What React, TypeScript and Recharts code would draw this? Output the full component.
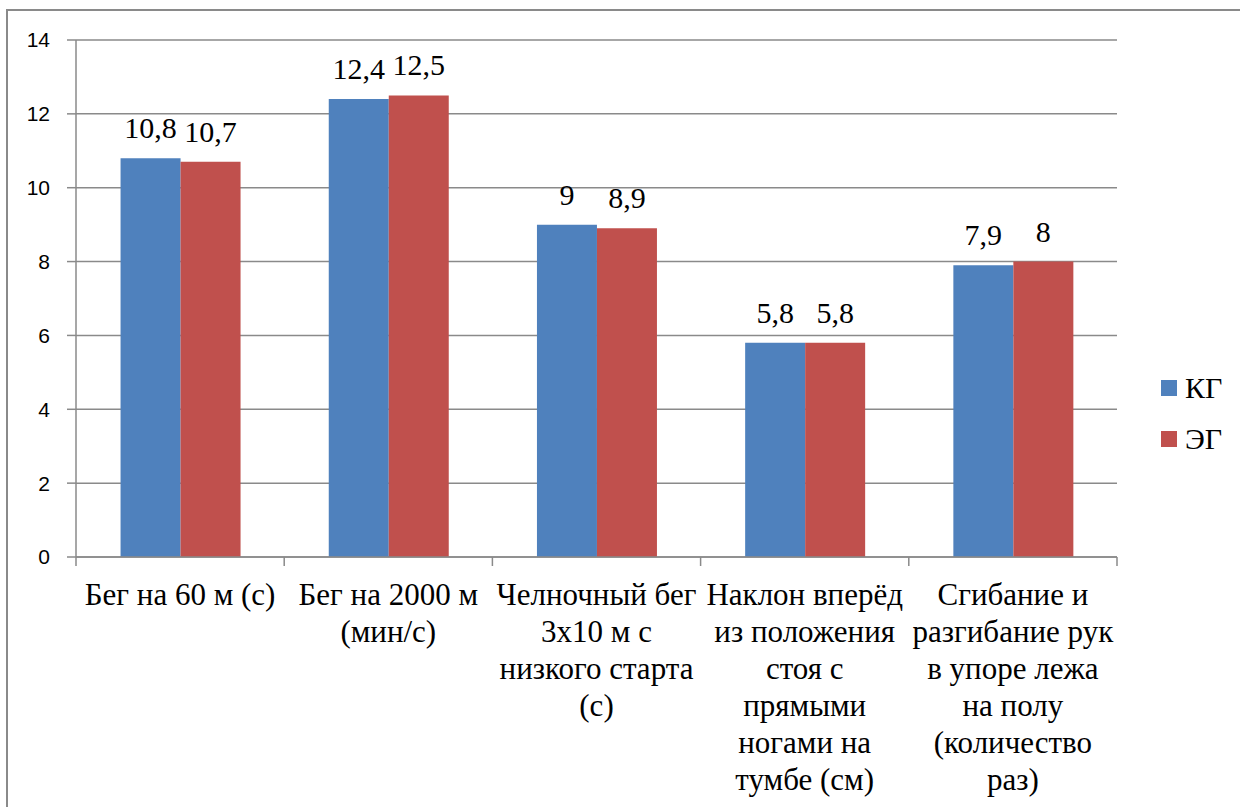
import { BarChart, Bar, XAxis, YAxis, CartesianGrid, LabelList } from 'recharts';

const categories = [
  'Бег на 60 м (с)',
  'Бег на 2000 м (мин/с)',
  'Челночный бег 3х10 м с низкого старта (с)',
  'Наклон вперёд из положения стоя с прямыми ногами на тумбе (см)',
  'Сгибание и разгибание рук в упоре лежа на полу (количество раз)',
];
const categoryLines = [
  ['Бег на 60 м (с)'],
  ['Бег на 2000 м', '(мин/с)'],
  ['Челночный бег', '3х10 м с', 'низкого старта', '(с)'],
  ['Наклон вперёд', 'из положения', 'стоя с', 'прямыми', 'ногами на', 'тумбе (см)'],
  ['Сгибание и', 'разгибание рук', 'в упоре лежа', 'на полу', '(количество', 'раз)'],
];
const kgValues = [10.8, 12.4, 9, 5.8, 7.9];
const egValues = [10.7, 12.5, 8.9, 5.8, 8];
const yTicks = [0, 2, 4, 6, 8, 10, 12, 14];
const seriesNames = ['КГ', 'ЭГ'];

const data = categories.map((name, i) => ({ name, kg: kgValues[i], eg: egValues[i] }));

const W = 1240;
const H = 807;
const X_HEIGHT = 250;
const Y_WIDTH = 76;
const MARGIN = { top: 40, right: 123, bottom: 0, left: 0 };
const BAND = (W - MARGIN.right - Y_WIDTH) / categories.length;
const AXIS_COLOR = '#8a8a8a';
const SERIF = 'Liberation Serif';
const BLUE = '#4F81BD';
const RED = '#C0504D';

const fmt = (v: number) => String(v).replace('.', ',');

function CategoryTick(props: any) {
  const { x, y, payload, index } = props;
  const axisY = y - 9;
  const lines = categoryLines[index] ?? [payload.value];
  return (
    <g>
      <line x1={x - BAND / 2} x2={x - BAND / 2} y1={axisY} y2={axisY + 9} stroke={AXIS_COLOR} strokeWidth={1.5} />
      {index === categories.length - 1 && (
        <line x1={x + BAND / 2} x2={x + BAND / 2} y1={axisY} y2={axisY + 9} stroke={AXIS_COLOR} strokeWidth={1.5} />
      )}
      <text x={x} y={axisY + 48} textAnchor="middle" fontFamily={SERIF} fontSize={31} fill="#000">
        {lines.map((l: string, i: number) => (
          <tspan key={i} x={x} dy={i === 0 ? 0 : 37}>{l}</tspan>
        ))}
      </text>
    </g>
  );
}

function LegendBox() {
  const colors = [BLUE, RED];
  return (
    <div style={{ position: 'absolute', left: 1161, top: 362, fontFamily: SERIF, fontSize: 30, color: '#000', lineHeight: 1 }}>
      {seriesNames.map((n, i) => (
        <div key={n} style={{ display: 'flex', alignItems: 'center', height: 51 }}>
          <span style={{ display: 'inline-block', width: 16, height: 16, background: colors[i], marginRight: 8 }} />
          <span>{n}</span>
        </div>
      ))}
    </div>
  );
}

export default function App() {
  return (
    <div style={{ position: 'absolute', left: 0, top: 0, width: W, height: H, overflow: 'hidden', background: '#fff' }}>
      <div
        style={{
          position: 'absolute', left: 6, top: 9, width: W + 50, height: H + 50,
          borderTop: `2px solid ${AXIS_COLOR}`, borderLeft: `2px solid ${AXIS_COLOR}`,
        }}
      />
      <BarChart width={W} height={H} data={data} margin={MARGIN} barCategoryGap="21.4%" barGap={0}>
        <CartesianGrid vertical={false} stroke={AXIS_COLOR} strokeWidth={1.5} />
        <XAxis
          dataKey="name"
          interval={0}
          tickLine={false}
          tickSize={9}
          tickMargin={0}
          axisLine={{ stroke: AXIS_COLOR, strokeWidth: 1.5 }}
          tick={<CategoryTick />}
          height={X_HEIGHT}
        />
        <YAxis
          width={Y_WIDTH}
          domain={[0, 14]}
          ticks={yTicks}
          interval={0}
          tickSize={9}
          tickMargin={17}
          axisLine={{ stroke: AXIS_COLOR, strokeWidth: 1.5 }}
          tickLine={{ stroke: AXIS_COLOR, strokeWidth: 1.5 }}
          tick={{ fill: '#000', fontSize: 21, fontFamily: 'Liberation Sans' }}
        />
        <Bar dataKey="kg" name={seriesNames[0]} fill={BLUE} isAnimationActive={false}>
          <LabelList dataKey="kg" position="top" offset={20} formatter={fmt} fill="#000" fontSize={30} fontFamily={SERIF} />
        </Bar>
        <Bar dataKey="eg" name={seriesNames[1]} fill={RED} isAnimationActive={false}>
          <LabelList dataKey="eg" position="top" offset={20} formatter={fmt} fill="#000" fontSize={30} fontFamily={SERIF} />
        </Bar>
      </BarChart>
      <LegendBox />
    </div>
  );
}
